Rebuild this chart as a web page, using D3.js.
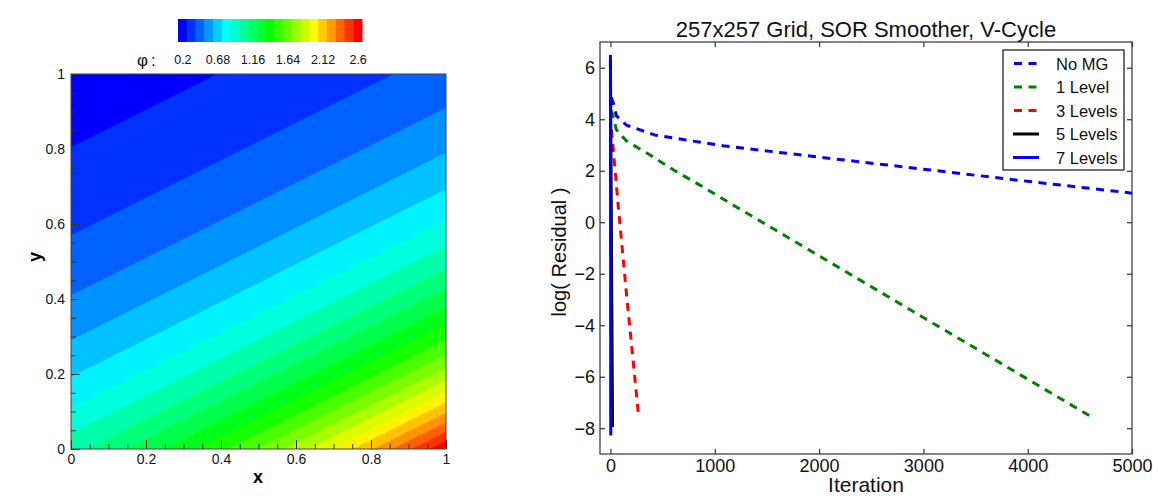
<!DOCTYPE html>
<html>
<head>
<meta charset="utf-8">
<script src="https://cdn.jsdelivr.net/npm/d3@7"></script>
<style>
  body { margin: 0; background: #fff; }
  svg { display: block; font-family: "Liberation Sans", Arial, Helvetica, sans-serif; }
</style>
</head>
<body>
<svg id="chart" width="1158" height="500"></svg>
<script>
// ---- left panel: phi contour field ----
// contour levels shown in the legend (21 of them)
const phiLevels = [0.2, 0.32, 0.44, 0.56, 0.68, 0.8, 0.92, 1.04, 1.16, 1.28, 1.4,
                   1.52, 1.64, 1.76, 1.88, 2.0, 2.12, 2.24, 2.36, 2.48, 2.6];
// the contour lines are straight, all same slope; y where each one meets x = 0
const levelYAtX0 = [0.805, 0.57, 0.41, 0.29, 0.193, 0.112, 0.042, -0.02, -0.074, -0.123, -0.168,
                    -0.209, -0.247, -0.283, -0.316, -0.347, -0.376, -0.403, -0.429, -0.454, -0.478];
const contourSlope = 0.5;
const colorbarTicks = [0.2, 0.68, 1.16, 1.64, 2.12, 2.6];
const phiAxisTicks = [0, 0.2, 0.4, 0.6, 0.8, 1];

// ---- right panel: residual histories ----
const noMgIter  = [8, 25, 57, 153, 425, 712, 1080, 2000, 3000, 4000, 5000];
const noMgRes   = [4.85, 4.66, 4.14, 3.77, 3.39, 3.2, 2.97, 2.53, 2.06, 1.59, 1.13];
const lvl1Iter  = [5, 25, 57, 153, 393, 617, 872, 1080, 4612];
const lvl1Res   = [4.35, 4.14, 3.59, 3.16, 2.58, 2.0, 1.41, 0.9, -7.56];
const lvl3Iter  = [10, 75, 159, 271];
const lvl3Res   = [3.6, 0.63, -3.0, -7.56];
const lvl5Iter  = [0, 20];
const lvl5Res   = [6.3, -7.95];
const lvl7Iter  = [0, 3];
const lvl7Res   = [6.5, -8.28];
const iterTicks = [0, 1000, 2000, 3000, 4000, 5000];
const resTicks  = [-8, -6, -4, -2, 0, 2, 4, 6];

const svg = d3.select("#chart");

// tecplot-ish rainbow
const rainbow = d3.scaleLinear()
    .domain([0, 0.25, 0.5, 0.75, 1])
    .range(["#0000ff", "#00ffff", "#00ff00", "#ffff00", "#ff0000"]);

// scales for the contour plot
const xPhi = d3.scaleLinear().domain([0, 1]).range([71, 446]);
const yPhi = d3.scaleLinear().domain([0, 1]).range([449, 74]);

svg.append("clipPath").attr("id", "phiClip")
  .append("rect")
    .attr("x", xPhi(0)).attr("y", yPhi(1))
    .attr("width", xPhi(1) - xPhi(0)).attr("height", yPhi(0) - yPhi(1));

const field = svg.append("g").attr("clip-path", "url(#phiClip)");

// everything above the top level first
field.append("rect")
    .attr("x", xPhi(0)).attr("y", yPhi(1))
    .attr("width", xPhi(1) - xPhi(0)).attr("height", yPhi(0) - yPhi(1))
    .attr("fill", rainbow(1));

// then paint the half plane above each contour line, highest level first
const nRegions = phiLevels.length; // 21 -> regions 0..21
for (let k = phiLevels.length - 1; k >= 0; k--) {
    const b = levelYAtX0[k];
    const pts = [[0, b], [1, b + contourSlope], [1, 2], [0, 2]]
        .map(p => [xPhi(p[0]), yPhi(p[1])]);
    field.append("polygon")
        .attr("points", pts.map(p => p.join(",")).join(" "))
        .attr("fill", rainbow(k / nRegions));
}

// frame
svg.append("rect")
    .attr("x", xPhi(0)).attr("y", yPhi(1))
    .attr("width", xPhi(1) - xPhi(0)).attr("height", yPhi(0) - yPhi(1))
    .attr("fill", "none").attr("stroke", "#444").attr("stroke-width", 1);

const minorTicks = d3.range(0, 21).map(i => i * 0.05).filter(v => Math.round(v * 100) % 20 !== 0);
const fmtPhi = d3.format("~g");

// x axis (ticks pointing inward)
const gx = svg.append("g").attr("transform", `translate(0,${yPhi(0)})`);
gx.call(d3.axisBottom(xPhi).tickValues(minorTicks).tickSizeInner(-5).tickSizeOuter(0).tickFormat(""));
const gx2 = svg.append("g").attr("transform", `translate(0,${yPhi(0)})`);
gx2.call(d3.axisBottom(xPhi).tickValues(phiAxisTicks).tickSizeInner(-9).tickSizeOuter(0)
    .tickPadding(5).tickFormat(fmtPhi));

const gy = svg.append("g").attr("transform", `translate(${xPhi(0)},0)`);
gy.call(d3.axisLeft(yPhi).tickValues(minorTicks).tickSizeInner(-5).tickSizeOuter(0).tickFormat(""));
const gy2 = svg.append("g").attr("transform", `translate(${xPhi(0)},0)`);
gy2.call(d3.axisLeft(yPhi).tickValues(phiAxisTicks).tickSizeInner(-9).tickSizeOuter(0)
    .tickPadding(6).tickFormat(fmtPhi));

[gx, gx2, gy, gy2].forEach(g => {
    g.select(".domain").remove();
    g.selectAll("line").attr("stroke", "#333");
    g.selectAll("text").attr("font-size", 14).attr("fill", "#111")
        .attr("font-family", "\"Liberation Sans\", Arial, sans-serif");
});

svg.append("text")
    .attr("x", 258).attr("y", 483)
    .attr("text-anchor", "middle")
    .attr("font-size", 18).attr("font-weight", "bold")
    .text("x");

svg.append("text")
    .attr("transform", "translate(41,257) rotate(-90)")
    .attr("text-anchor", "middle")
    .attr("font-size", 18).attr("font-weight", "bold")
    .text("y");

// colour legend bar
const barBlocks = d3.scaleBand().domain(d3.range(phiLevels.length)).range([178, 362]);
svg.append("g").selectAll("rect")
    .data(phiLevels)
    .join("rect")
    .attr("x", (d, i) => barBlocks(i))
    .attr("y", 19)
    .attr("width", barBlocks.bandwidth() + 0.5)
    .attr("height", 23)
    .attr("fill", (d, i) => rainbow(i / (phiLevels.length - 1)));

const barScale = d3.scaleLinear()
    .domain([phiLevels[0], phiLevels[phiLevels.length - 1]])
    .range([barBlocks(0) + barBlocks.bandwidth() / 2,
            barBlocks(phiLevels.length - 1) + barBlocks.bandwidth() / 2]);

const gBar = svg.append("g").attr("transform", "translate(0,55)");
gBar.call(d3.axisBottom(barScale).tickValues(colorbarTicks).tickSize(0).tickPadding(0).tickFormat(fmtPhi));
gBar.select(".domain").remove();
gBar.selectAll("text").attr("font-size", 12.5).attr("fill", "#111")
    .attr("font-family", "\"Liberation Sans\", Arial, sans-serif");

const phiLbl = svg.append("text").attr("x", 137).attr("y", 66).attr("font-size", 17).attr("fill", "#111");
phiLbl.append("tspan").text("φ");
phiLbl.append("tspan").attr("dx", 3).text(":");

// ---- right panel ----
const xIt = d3.scaleLinear().domain([-100, 5000]).range([600, 1132]);
const yRes = d3.scaleLinear().domain([-9, 7]).range([454, 42]);

const axisStyle = g => {
    g.select(".domain").remove();
    g.selectAll("line").attr("stroke", "#333").attr("stroke-width", 1.2);
    g.selectAll("text").attr("font-size", 18).attr("fill", "#111")
        .attr("font-family", "\"Liberation Sans\", Arial, sans-serif");
};

svg.append("g").attr("transform", `translate(0,${yRes(-9)})`)
    .call(d3.axisBottom(xIt).tickValues(iterTicks).tickSizeInner(-5).tickSizeOuter(0)
        .tickPadding(5).tickFormat(d3.format("d")))
    .call(axisStyle);
svg.append("g").attr("transform", `translate(0,${yRes(7)})`)
    .call(d3.axisTop(xIt).tickValues(iterTicks).tickSizeInner(-5).tickSizeOuter(0).tickFormat(""))
    .call(axisStyle);
svg.append("g").attr("transform", `translate(${xIt(-100)},0)`)
    .call(d3.axisLeft(yRes).tickValues(resTicks).tickSizeInner(-5).tickSizeOuter(0).tickPadding(5))
    .call(axisStyle);
svg.append("g").attr("transform", `translate(${xIt(5000)},0)`)
    .call(d3.axisRight(yRes).tickValues(resTicks).tickSizeInner(-5).tickSizeOuter(0).tickFormat(""))
    .call(axisStyle);

svg.append("rect")
    .attr("x", xIt(-100)).attr("y", yRes(7))
    .attr("width", xIt(5000) - xIt(-100)).attr("height", yRes(-9) - yRes(7))
    .attr("fill", "none").attr("stroke", "#333").attr("stroke-width", 1.2);

const series = [
    { name: "No MG",    iter: noMgIter, res: noMgRes, color: "#0000ff", dash: "8,6.5" },
    { name: "1 Level",  iter: lvl1Iter, res: lvl1Res, color: "#008000", dash: "8,6.5" },
    { name: "3 Levels", iter: lvl3Iter, res: lvl3Res, color: "#ff0000", dash: "8,6.5" },
    { name: "5 Levels", iter: lvl5Iter, res: lvl5Res, color: "#000000", dash: null },
    { name: "7 Levels", iter: lvl7Iter, res: lvl7Res, color: "#0000ff", dash: null }
];

const line = d3.line().x(d => xIt(d[0])).y(d => yRes(d[1]));

svg.append("g").selectAll("path")
    .data(series)
    .join("path")
    .attr("d", s => line(d3.zip(s.iter, s.res)))
    .attr("fill", "none")
    .attr("stroke", s => s.color)
    .attr("stroke-width", 3)
    .attr("stroke-dasharray", s => s.dash);

// legend
const legend = svg.append("g");
legend.append("rect")
    .attr("x", 1003).attr("y", 50).attr("width", 121).attr("height", 120)
    .attr("fill", "#fff").attr("stroke", "#111").attr("stroke-width", 1.2);

const row = legend.selectAll(".row")
    .data(series)
    .join("g")
    .attr("class", "row")
    .attr("transform", (d, i) => `translate(0,${63.5 + i * 23.5})`);

row.append("line")
    .attr("x1", s => s.dash ? 1014 : 1013).attr("x2", s => s.dash ? 1036.5 : 1039)
    .attr("stroke", s => s.color).attr("stroke-width", 3)
    .attr("stroke-dasharray", s => s.dash);

row.append("text")
    .attr("x", 1056).attr("y", 6)
    .attr("font-size", 16.5).attr("fill", "#111")
    .text(s => s.name);

// titles
svg.append("text")
    .attr("x", 866).attr("y", 37)
    .attr("text-anchor", "middle")
    .attr("font-size", 22).attr("fill", "#111")
    .text("257x257 Grid, SOR Smoother, V-Cycle");

svg.append("text")
    .attr("x", 866).attr("y", 492)
    .attr("text-anchor", "middle")
    .attr("font-size", 21).attr("fill", "#111")
    .text("Iteration");

svg.append("text")
    .attr("transform", "translate(566,252) rotate(-90)")
    .attr("text-anchor", "middle")
    .attr("font-size", 20).attr("fill", "#111")
    .text("log( Residual )");
</script>
</body>
</html>
